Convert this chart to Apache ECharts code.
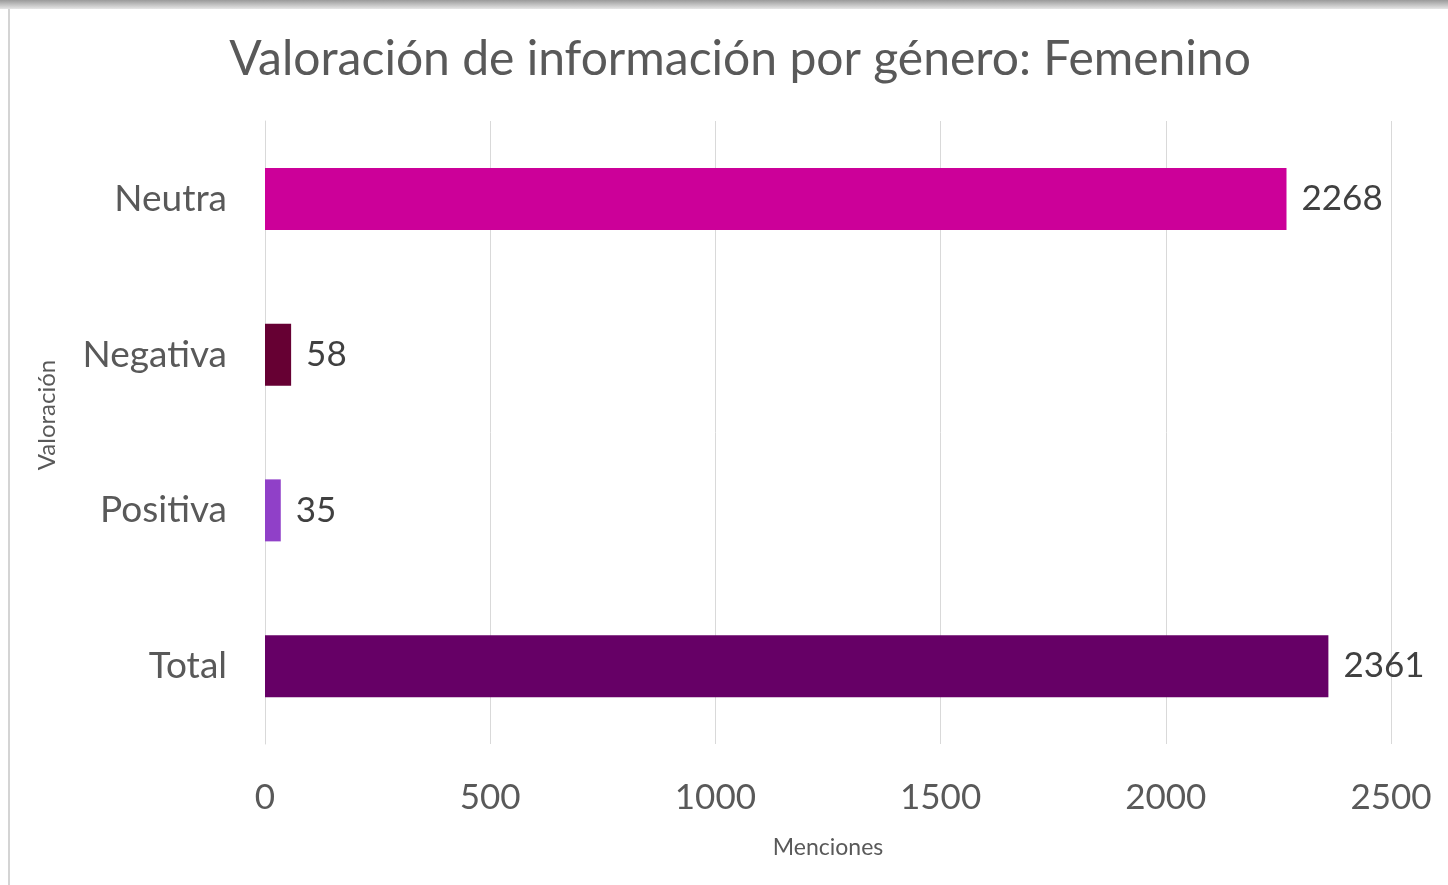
<!DOCTYPE html>
<html>
<head>
<meta charset="utf-8">
<script src="https://cdn.jsdelivr.net/npm/echarts@6/dist/echarts.min.js"></script>
<style>
  html, body { margin: 0; padding: 0; background: #fff; }
  #frame { position: absolute; left: 0; top: 0; width: 1448px; height: 885px; }
  #shade { position: absolute; left: 0; top: 0; width: 1448px; height: 9px;
    background: linear-gradient(#9a9a9a, #e6e6e6); }
  #edge { position: absolute; left: 8px; top: 9px; width: 2px; height: 876px; background: #d4d4d4; }
  #chart { position: absolute; left: 0; top: 0; width: 1448px; height: 885px; }
</style>
</head>
<body>
<div id="frame"><div id="shade"></div><div id="edge"></div></div>
<div id="chart"></div>
<script>
// categorías de arriba hacia abajo
const categories = ['Neutra', 'Negativa', 'Positiva', 'Total']
const menciones = [2268, 58, 35, 2361]
const colores = ['#CC0099', '#660033', '#9040C8', '#660066']

const chart = echarts.init(document.getElementById('chart'))
chart.setOption({
  textStyle: { fontFamily: 'Lato, "Open Sans", sans-serif' },
  title: {
    text: 'Valoración de información por género: Femenino',
    left: 735,
    textAlign: 'center',
    top: 31,
    textStyle: { color: '#595959', fontSize: 48, fontWeight: 'normal' }
  },
  // título del eje vertical, algo más arriba que el centro del grid
  graphic: [{
    type: 'text',
    x: 47,
    y: 415,
    rotation: Math.PI / 2,
    style: {
      text: 'Valoración',
      fill: '#595959',
      fontSize: 24,
      fontFamily: 'Lato, "Open Sans", sans-serif',
      align: 'center',
      verticalAlign: 'middle'
    }
  }],
  grid: { left: 265, right: 57, top: 121, bottom: 141 },
  xAxis: {
    type: 'value',
    min: 0,
    max: 2500,
    interval: 500,
    name: 'Menciones',
    nameLocation: 'middle',
    nameGap: 92,
    nameTextStyle: { color: '#595959', fontSize: 23 },
    axisLine: { show: false },
    axisTick: { show: false },
    axisLabel: { color: '#595959', fontSize: 35, margin: 36, formatter: v => String(v) },
    splitLine: { lineStyle: { color: '#d9d9d9', width: 1 } }
  },
  yAxis: {
    type: 'category',
    inverse: true,
    data: categories,
    axisLine: { show: true, lineStyle: { color: '#d9d9d9' } },
    axisTick: { show: false },
    axisLabel: { color: '#595959', fontSize: 37, margin: 38 }
  },
  series: [{
    type: 'bar',
    barWidth: 62,
    data: menciones.map((v, i) => ({ value: v, itemStyle: { color: colores[i] } })),
    label: {
      show: true,
      position: 'right',
      distance: 15,
      color: '#404040',
      fontSize: 35
    }
  }]
})
</script>
</body>
</html>
